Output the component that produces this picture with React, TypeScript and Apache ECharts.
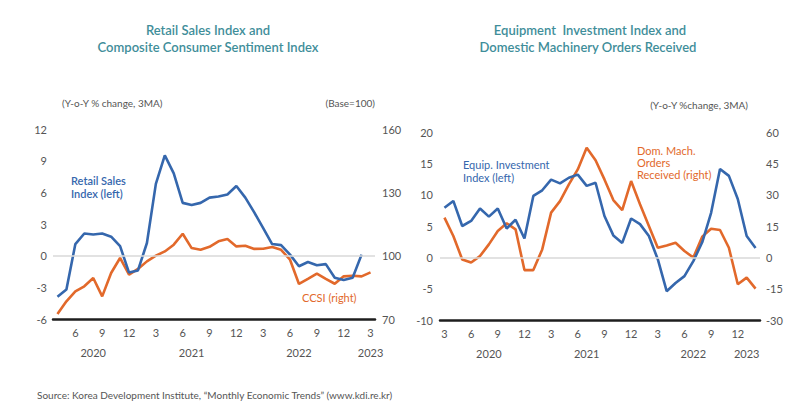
import React, { useEffect, useRef } from "react";
import * as echarts from "echarts";

// ---------- data ----------
const leftCategories = [
  "2020-04", "2020-05", "2020-06", "2020-07", "2020-08", "2020-09", "2020-10", "2020-11", "2020-12",
  "2021-01", "2021-02", "2021-03", "2021-04", "2021-05", "2021-06", "2021-07", "2021-08", "2021-09",
  "2021-10", "2021-11", "2021-12", "2022-01", "2022-02", "2022-03", "2022-04", "2022-05", "2022-06",
  "2022-07", "2022-08", "2022-09", "2022-10", "2022-11", "2022-12", "2023-01", "2023-02", "2023-03",
];
const retailSales = [
  -3.9, -3.2, 1.1, 2.1, 2.0, 2.1, 1.8, 0.9, -1.6,
  -1.4, 1.2, 6.8, 9.5, 7.8, 5.0, 4.8, 5.0, 5.5,
  5.6, 5.8, 6.6, 5.5, 4.1, 2.6, 1.1, 1.0, 0.1,
  -1.0, -0.6, -0.9, -0.8, -2.1, -2.3, -2.1, 0.1, null,
];
const ccsi = [
  72.4, 78.4, 83.1, 85.5, 89.4, 80.7, 91.8, 98.9, 91.0,
  93.7, 97.3, 100.0, 102.0, 105.2, 110.4, 103.6, 102.8, 104.2,
  106.8, 107.9, 104.4, 104.7, 103.2, 103.3, 104.1, 102.8, 98.1,
  86.6, 89.0, 91.5, 89.0, 86.7, 90.2, 90.5, 90.2, 92.1,
];
const leftYearLabelAt = ["2020-08", "2021-07", "2022-07", "2023-03"];

const rightCategories = [
  "2020-03", "2020-04", "2020-05", "2020-06", "2020-07", "2020-08", "2020-09", "2020-10", "2020-11",
  "2020-12", "2021-01", "2021-02", "2021-03", "2021-04", "2021-05", "2021-06", "2021-07", "2021-08",
  "2021-09", "2021-10", "2021-11", "2021-12", "2022-01", "2022-02", "2022-03", "2022-04", "2022-05",
  "2022-06", "2022-07", "2022-08", "2022-09", "2022-10", "2022-11", "2022-12", "2023-01", "2023-02",
];
const equipInvestment = [
  7.9, 9.0, 5.0, 5.8, 7.8, 6.5, 7.8, 4.6, 6.0,
  3.0, 9.8, 10.7, 12.4, 11.8, 12.7, 13.2, 11.4, 11.9,
  6.6, 3.5, 2.3, 6.2, 5.3, 3.4, -0.3, -5.4, -4.1,
  -3.0, -0.6, 2.4, 7.1, 14.1, 13.0, 9.3, 3.4, 1.5,
];
const machineryOrders = [
  19.0, 10.2, -1.0, -2.5, 0.6, 6.2, 12.6, 16.3, 13.4,
  -6.1, -6.1, 3.8, 21.4, 26.9, 34.9, 42.1, 52.5, 46.5,
  37.3, 27.4, 22.6, 36.5, 25.4, 15.0, 4.6, 5.7, 7.0,
  3.0, -0.1, 9.9, 13.7, 13.1, 4.6, -12.9, -9.7, -15.0,
];
const rightYearLabelAt = ["2020-08", "2021-07", "2022-07", "2023-01"];

// axis ranges
const leftAxisL = { min: -6, max: 12, interval: 3 };
const leftAxisR = { min: 70, max: 160, interval: 30 };
const rightAxisL = { min: -10, max: 20, interval: 5 };
const rightAxisR = { min: -30, max: 60, interval: 15 };

// ---------- styles ----------
const FONT = "Lato, 'Open Sans', sans-serif";
const BLUE = "#3567ad";
const ORANGE = "#e2692b";
const TITLE = "#3f8e9a";
const GRAY = "#555";

const monthOf = (v: string) => parseInt(v.slice(5), 10);

function monthAxis(gridIndex: number, data: string[]) {
  return {
    gridIndex,
    type: "category",
    position: "bottom",
    data,
    boundaryGap: true,
    axisLine: { onZero: false, lineStyle: { color: "#1e1e1e", width: 2.5 } },
    axisTick: { show: false },
    splitLine: { show: false },
    axisLabel: {
      interval: (_i: number, v: string) => monthOf(v) % 3 === 0,
      formatter: (v: string) => String(monthOf(v)),
      color: GRAY,
      fontSize: 11,
      margin: 8,
      fontFamily: FONT,
    },
  };
}
function yearAxis(gridIndex: number, data: string[], at: string[]) {
  return {
    gridIndex,
    type: "category",
    position: "bottom",
    offset: 20,
    data,
    boundaryGap: true,
    axisLine: { show: false },
    axisTick: { show: false },
    splitLine: { show: false },
    axisLabel: {
      interval: (_i: number, v: string) => at.includes(v),
      formatter: (v: string) => v.slice(0, 4),
      color: GRAY,
      fontSize: 11,
      margin: 8,
      fontFamily: FONT,
    },
  };
}
function valAxis(gridIndex: number, r: any, position: string, margin: number) {
  return {
    gridIndex,
    type: "value",
    position,
    min: r.min,
    max: r.max,
    interval: r.interval,
    axisLine: { show: false },
    axisTick: { show: false },
    splitLine: { show: false },
    axisLabel: { color: GRAY, fontSize: 11, margin, fontFamily: FONT },
  };
}
function lineSeries(name: string, data: any[], xi: number, yi: number, color: string) {
  return {
    name,
    type: "line",
    xAxisIndex: xi,
    yAxisIndex: yi,
    data,
    symbol: "none",
    z: 3,
    lineStyle: { color, width: 2.6 },
  };
}
function zeroLine(xi: number, yi: number) {
  return {
    type: "line",
    xAxisIndex: xi,
    yAxisIndex: yi,
    data: [],
    z: 1,
    markLine: {
      silent: true,
      symbol: ["none", "none"],
      label: { show: false },
      lineStyle: { color: "#d8d8d8", width: 1.5, type: "solid" },
      data: [{ yAxis: 0 }],
    },
  };
}
function txt(x: number, y: number, text: string, fill: string, size: number, weight: any, align = "left") {
  return {
    type: "text",
    x,
    y,
    style: { text, fill, font: `${weight} ${size}px ${FONT}`, textAlign: align, textVerticalAlign: "middle" },
  };
}

export default function App() {
  const ref = useRef<HTMLDivElement>(null);
  useEffect(() => {
    if (!ref.current) return;
    const chart = echarts.init(ref.current, undefined, { renderer: "svg" });
    const option: any = {
      animation: false,
      backgroundColor: "#ffffff",
      textStyle: { fontFamily: FONT },
      grid: [
        { left: 53, width: 322, top: 129, height: 190 },
        { left: 440, width: 320, top: 132, height: 188 },
      ],
      xAxis: [
        monthAxis(0, leftCategories),
        yearAxis(0, leftCategories, leftYearLabelAt),
        monthAxis(1, rightCategories),
        yearAxis(1, rightCategories, rightYearLabelAt),
      ],
      yAxis: [
        valAxis(0, leftAxisL, "left", 6),
        valAxis(0, leftAxisR, "right", 7),
        valAxis(1, rightAxisL, "left", 7),
        valAxis(1, rightAxisR, "right", 6),
      ],
      series: [
        zeroLine(0, 0),
        zeroLine(2, 2),
        lineSeries("CCSI (right)", ccsi, 0, 1, ORANGE),
        lineSeries("Retail Sales Index (left)", retailSales, 0, 0, BLUE),
        lineSeries("Dom. Mach. Orders Received (right)", machineryOrders, 2, 3, ORANGE),
        lineSeries("Equip. Investment Index (left)", equipInvestment, 2, 2, BLUE),
      ],
      graphic: [
        txt(208, 30, "Retail Sales Index and", TITLE, 13, 600, "center"),
        txt(208, 47, "Composite Consumer Sentiment Index", TITLE, 13, 600, "center"),
        txt(590, 30, "Equipment  Investment Index and", TITLE, 13, 600, "center"),
        txt(588, 47, "Domestic Machinery Orders Received", TITLE, 13, 600, "center"),
        txt(62, 103, "(Y-o-Y % change, 3MA)", GRAY, 10, 400),
        txt(375, 103, "(Base=100)", GRAY, 10, 400, "right"),
        txt(748, 105, "(Y-o-Y %change, 3MA)", GRAY, 10, 400, "right"),
        txt(71, 180, "Retail Sales", BLUE, 11, 600),
        txt(71, 193, "Index (left)", BLUE, 11, 600),
        txt(302, 297, "CCSI (right)", ORANGE, 11, 400),
        txt(463, 164, "Equip. Investment", BLUE, 11, 400),
        txt(463, 177, "Index (left)", BLUE, 11, 400),
        txt(637, 150, "Dom. Mach.", ORANGE, 11, 400),
        txt(637, 162, "Orders", ORANGE, 11, 400),
        txt(637, 174, "Received (right)", ORANGE, 11, 400),
        txt(37, 395, "Source: Korea Development Institute, \u201CMonthly Economic Trends\u201D (www.kdi.re.kr)", GRAY, 10, 400),
      ],
    };
    chart.setOption(option);
    return () => chart.dispose();
  }, []);
  return (
    <div
      ref={ref}
      style={{ position: "absolute", left: 0, top: 0, width: 800, height: 417, background: "#fff" }}
    />
  );
}
